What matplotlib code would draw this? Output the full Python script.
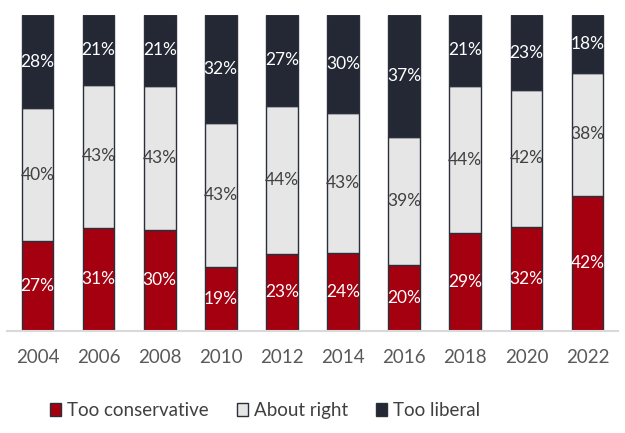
import matplotlib
matplotlib.use("Agg")
import matplotlib.pyplot as plt
import numpy as np

years = ["2004", "2006", "2008", "2010", "2012", "2014", "2016", "2018", "2020", "2022"]
too_conservative = [27, 31, 30, 19, 23, 24, 20, 29, 32, 42]
about_right = [40, 43, 43, 43, 44, 43, 39, 44, 42, 38]
too_liberal = [28, 21, 21, 32, 27, 30, 37, 21, 23, 18]

series = [
    ("Too conservative", too_conservative, "#a50010", "white"),
    ("About right", about_right, "#e6e6e6", "#404040"),
    ("Too liberal", too_liberal, "#232834", "white"),
]

plt.rcParams["font.family"] = ["Lato", "DejaVu Sans"]

fig = plt.figure(figsize=(6.25, 4.33), dpi=100)
ax = fig.add_axes([0.011, 0.236, 0.978, 0.729])

x = np.arange(len(years))
totals = np.array(too_conservative) + np.array(about_right) + np.array(too_liberal)
bottom = np.zeros(len(years))
for name, vals, color, tcolor in series:
    vals = np.array(vals, dtype=float)
    share = vals / totals * 100
    ax.bar(x, share, bottom=bottom, width=0.52, color=color, edgecolor="#2a2f3a",
           linewidth=1.0, label=name, zorder=2)
    for xi, b, s, v in zip(x, bottom, share, vals):
        ax.text(xi, b + s / 2, f"{int(v)}%", ha="center", va="center",
                color=tcolor, fontsize=12.5, zorder=3)
    bottom += share

ax.set_xlim(-0.5, 9.5)
ax.set_ylim(0, 100)
ax.set_xticks(x)
ax.set_xticklabels(years, fontsize=13.5, color="#595959")
ax.tick_params(axis="x", length=0, pad=13)
ax.set_yticks([])
for side in ["top", "right", "left"]:
    ax.spines[side].set_visible(False)
ax.spines["bottom"].set_color("#d9d9d9")
ax.spines["bottom"].set_linewidth(1.5)

fig.legend(*ax.get_legend_handles_labels(), loc="center", bbox_to_anchor=(0.424, 0.052),
           ncol=3, frameon=False, fontsize=13.5, handlelength=0.6, handleheight=0.7,
           handletextpad=0.3, columnspacing=1.5, labelcolor="#404040")

fig.savefig("out.png", dpi=100)
